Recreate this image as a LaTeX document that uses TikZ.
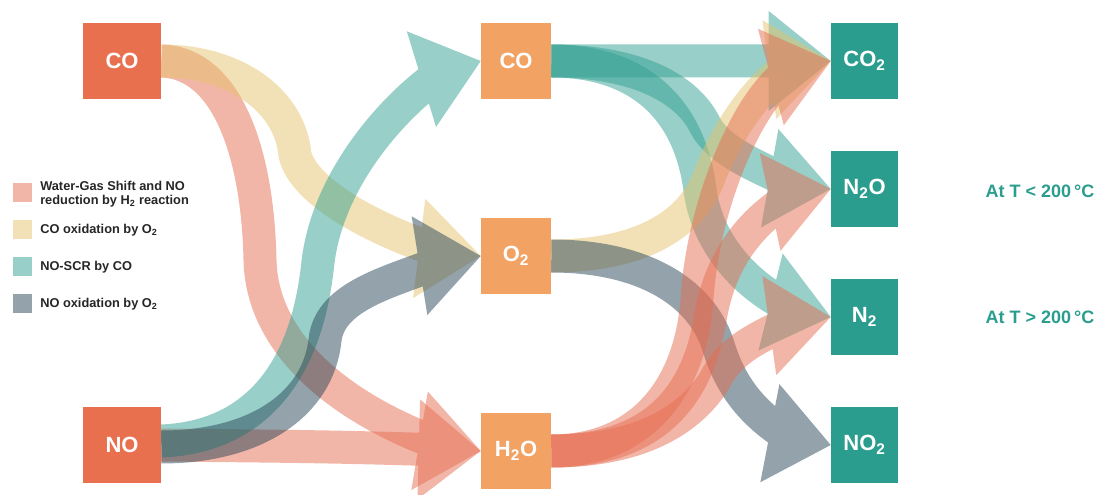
\documentclass[tikz,border=0pt]{standalone}
\usepackage{fontspec}
\setmainfont{Liberation Sans}
\usetikzlibrary{calc}
\definecolor{lboxc}{HTML}{E8704F}
\definecolor{mboxc}{HTML}{F2A263}
\definecolor{rboxc}{HTML}{2A9D8F}
\definecolor{pinkc}{HTML}{E56D51}
\definecolor{yellowc}{HTML}{E5C36D}
\definecolor{tealc}{HTML}{319F91}
\definecolor{grayc}{HTML}{294757}
\pgfdeclarelayer{background}
\pgfsetlayers{background,main}
\tikzset{
  box/.style={rectangle, inner sep=0pt, minimum height=57pt, text=white,
    font=\bfseries\fontsize{16.5}{18}\selectfont},
  lbox/.style={box, fill=lboxc, minimum width=58.5pt},
  mbox/.style={box, fill=mboxc, minimum width=52.5pt},
  rbox/.style={box, fill=rboxc, minimum width=50.25pt},
  band/.style={draw=#1, line width=24.75pt},
  head/.style={fill=#1},
  flowgroup/.style={transparency group, opacity=0.5},
  legsq/.style={rectangle, inner sep=0pt, minimum size=14.25pt, fill=#1, fill opacity=0.5},
  legtxt/.style={anchor=west, inner sep=0pt, align=left, font=\bfseries\fontsize{9.6}{10.5}\selectfont, text=black!85},
  temp/.style={inner sep=0pt, text=rboxc, font=\bfseries\fontsize{13.5}{15}\selectfont}
}
% #1 colour, #2 start, #3 path up to first control of last segment, #4 tip, #5 head angle, #6 band end angle, #7 control length
\newcommand\flow[7]{%
  \begin{scope}[flowgroup]
  \path (0,0) rectangle (1099,495);
  \draw[band=#1] (#2) #3 and ($(#4)+(#5:-42)+(#6:-#7)$) .. ($(#4)+(#5:-42)$);
  \fill[head=#1] ($(#4)+(#5:-62)+(#5+90:50)$) -- (#4) -- ($(#4)+(#5:-62)+(#5-90:50)$) -- cycle;
  \end{scope}
}
\begin{document}
\begin{tikzpicture}[x=0.75pt,y=-0.75pt]
\useasboundingbox (0,0) rectangle (1099,495);
% boxes
\node[lbox] (coL) at (122,61) {CO};
\node[lbox] (noL) at (122,445) {NO};
\node[mbox] (coM) at (516,61) {CO};
\node[mbox] (o2) at (516,256) {O\textsubscript{2}};
\node[mbox] (h2o) at (516,451) {H\textsubscript{2}O};
\node[rbox] (co2) at (864.5,61) {CO\textsubscript{2}};
\node[rbox] (n2o) at (864.5,189) {N\textsubscript{2}O};
\node[rbox] (n2) at (864.5,317) {N\textsubscript{2}};
\node[rbox] (no2) at (864.5,445) {NO\textsubscript{2}};
% temperature labels
\node[temp] (tlow) at (1040,191) {At T < 200\,°C};
\node[temp] (thigh) at (1040,317) {At T > 200\,°C};
% legend
\node[legsq=pinkc] (lg1) at (22.5,192.5) {};
\node[legsq=yellowc] (lg2) at (22.5,229.5) {};
\node[legsq=tealc] (lg3) at (22.5,266.5) {};
\node[legsq=grayc] (lg4) at (22.5,303.5) {};
\node[legtxt] (lt1) at (40,194) {Water-Gas Shift and NO\\reduction by H\textsubscript{2} reaction};
\node[legtxt] (lt2) at (40,230) {CO oxidation by O\textsubscript{2}};
\node[legtxt] (lt3) at (40,267) {NO-SCR by CO};
\node[legtxt] (lt4) at (40,304) {NO oxidation by O\textsubscript{2}};
% flows
\begin{pgfonlayer}{background}
% left column
\flow{pinkc}{coL.east}{.. controls (230,63) and (258,160) .. (260,260) .. controls (262,350)}{h2o.west}{9.5}{20}{95}
\flow{pinkc}{noL.east}{.. controls (260,446)}{h2o.west}{1.5}{2}{100}
\flow{yellowc}{coL.east}{.. controls (235,61) and (290,100) .. (295,155) .. controls (305,195)}{o2.west}{7}{18}{60}
\flow{tealc}{$(noL.east)+(0,-4)$}{.. controls (240,438) and (305,390) .. (318,262) .. controls (328,180)}{coM.west}{-17}{-35}{60}
\flow{grayc}{$(noL.east)+(0,2)$}{.. controls (255,447) and (318,405) .. (325,340) .. controls (330,295)}{o2.west}{-9}{-22}{50}
% right column
\flow{tealc}{coM.east}{.. controls (650,61)}{co2.west}{0}{0}{100}
\flow{tealc}{coM.east}{.. controls (630,61) and (685,85) .. (705,125) .. controls (718,150)}{n2o.west}{10}{25}{40}
\flow{tealc}{coM.east}{.. controls (640,61) and (690,110) .. (700,190) .. controls (708,250)}{n2.west}{14}{25}{40}
\flow{yellowc}{o2.east}{.. controls (640,256) and (690,225) .. (708,180) .. controls (725,135)}{co2.west}{-8}{-32}{40}
\flow{grayc}{o2.east}{.. controls (640,256) and (700,290) .. (718,345) .. controls (730,385)}{no2.west}{11}{32}{45}
\flow{pinkc}{h2o.east}{.. controls (640,451) and (690,390) .. (697,300) .. controls (703,200)}{co2.west}{-15}{-30}{45}
\flow{pinkc}{h2o.east}{.. controls (640,451) and (695,410) .. (710,320) .. controls (720,255)}{n2o.west}{-12}{-32}{40}
\flow{pinkc}{h2o.east}{.. controls (640,451) and (690,420) .. (715,380) .. controls (730,350)}{n2.west}{-8}{-25}{35}
\end{pgfonlayer}
\end{tikzpicture}
\end{document}
